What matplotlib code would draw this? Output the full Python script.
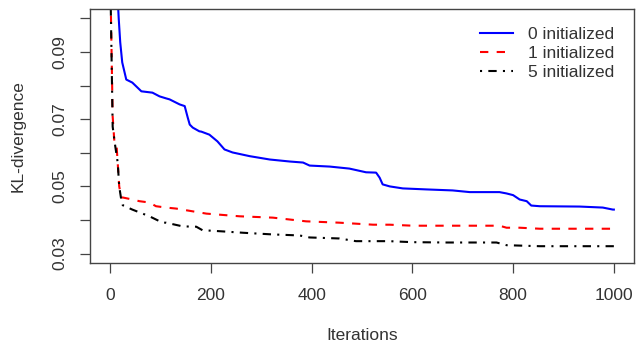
import matplotlib
matplotlib.use("Agg")
import matplotlib.pyplot as plt
import numpy as np

plt.rcParams['font.family'] = ['Liberation Sans', 'DejaVu Sans']

# KL-divergence vs iterations
it0 = [0, 10, 17, 20, 24, 32, 44, 62, 84, 98, 111, 118, 138, 148, 154, 158, 164,
       177, 181, 197, 213, 227, 243, 277, 317, 357, 383, 396, 436, 475, 508, 528,
       535, 541, 555, 581, 628, 680, 714, 773, 787, 800, 813, 827, 836, 853, 932,
       978, 998, 1000]
kl0 = [0.160, 0.120, 0.100, 0.0929, 0.0869, 0.0818, 0.0809, 0.0783, 0.0779,
       0.0768, 0.0762, 0.0759, 0.0744, 0.0739, 0.0705, 0.0684, 0.0675, 0.0664,
       0.0663, 0.0654, 0.0634, 0.0610, 0.0601, 0.0590, 0.0580, 0.0574, 0.0571,
       0.0562, 0.0559, 0.0553, 0.0542, 0.0541, 0.0526, 0.0506, 0.0500, 0.0494,
       0.0491, 0.0488, 0.0483, 0.0483, 0.0479, 0.0474, 0.0461, 0.0456, 0.0443,
       0.0441, 0.0440, 0.0437, 0.0431, 0.0431]

it1 = [0, 5, 9, 13, 18, 22, 25, 44, 58, 78, 91, 111, 131, 151, 191, 257, 323,
       389, 455, 522, 555, 601, 668, 754, 773, 787, 813, 853, 998, 1000]
kl1 = [0.115, 0.0708, 0.0619, 0.0616, 0.0500, 0.0467, 0.0467, 0.0461, 0.0456,
       0.0452, 0.0441, 0.0437, 0.0434, 0.0429, 0.0419, 0.0411, 0.0407, 0.0396,
       0.0392, 0.0386, 0.0386, 0.0383, 0.0383, 0.0383, 0.0383, 0.0377, 0.0377,
       0.0374, 0.0374, 0.0374]

it5 = [0, 5, 9, 15, 18, 22, 25, 44, 78, 104, 111, 138, 144, 171, 184, 191, 224,
       264, 323, 376, 396, 455, 488, 555, 568, 601, 668, 734, 767, 787, 853,
       998, 1000]
kl5 = [0.115, 0.0678, 0.0631, 0.0571, 0.0500, 0.0461, 0.0444, 0.0431, 0.0411,
       0.0392, 0.0392, 0.0383, 0.0381, 0.0380, 0.0369, 0.0369, 0.0366, 0.0362,
       0.0357, 0.0354, 0.0348, 0.0345, 0.0337, 0.0337, 0.0336, 0.0334, 0.0333,
       0.0333, 0.0333, 0.0325, 0.0322, 0.0322, 0.0322]

labels = ['0 initialized', '1 initialized', '5 initialized']

W, H = 644, 347
fig = plt.figure(figsize=(W / 100, H / 100), dpi=100)
ax = fig.add_axes([90 / W, 1 - 263 / H, 544 / W, 254 / H])

lw = 1.5
ax.plot(it0, kl0, color='#0000ff', lw=lw, label=labels[0])
ax.plot(it1, kl1, color='#ff0000', lw=lw, linestyle=(0, (4, 4)), label=labels[1])
ax.plot(it5, kl5, color='black', lw=lw, linestyle=(0, (1, 3, 4, 3)), label=labels[2])

# R style: ylim=c(0.03, 0.1) with 4% padding
ax.set_xlim(-40, 1040)
ax.set_ylim(0.0272, 0.1028)

ax.set_xticks([0, 200, 400, 600, 800, 1000])
yt = [0.03, 0.04, 0.05, 0.06, 0.07, 0.08, 0.09, 0.10]
ax.set_yticks(yt)
ax.set_yticklabels(['0.03', '', '0.05', '', '0.07', '', '0.09', ''],
                   rotation=90, va='center')

fs = 12.5
ax.tick_params(axis='both', direction='out', length=7, width=0.9,
               color='#444444', labelsize=fs, labelcolor='#333333')
ax.tick_params(axis='x', pad=11)
ax.tick_params(axis='y', pad=9)
for s in ax.spines.values():
    s.set_color('#444444')
    s.set_linewidth(1.0)

ax.set_xlabel('Iterations', fontsize=fs, color='#333333')
ax.set_ylabel('KL-divergence', fontsize=fs, color='#333333')
ax.xaxis.set_label_coords(0.5, (263 - 328) / 254)
ax.yaxis.set_label_coords((26 - 90) / 544, 0.5)

leg = ax.legend(loc='upper right', bbox_to_anchor=(1.001, 1.008), frameon=False,
                fontsize=fs, handlelength=1.9, handletextpad=0.9,
                labelspacing=0.22, borderaxespad=0.75)
for t in leg.get_texts():
    t.set_color('#333333')

fig.savefig('out.png', dpi=100)
